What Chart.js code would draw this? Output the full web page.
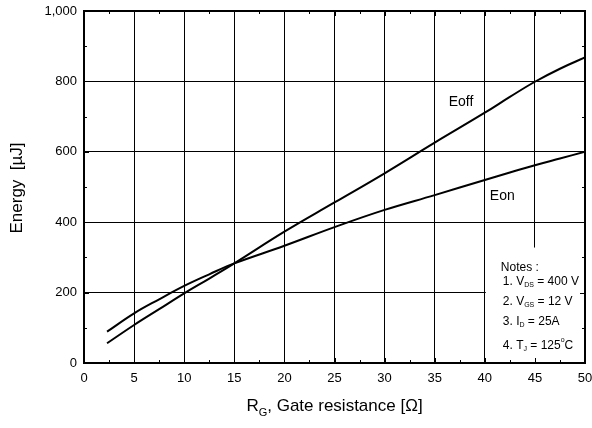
<!DOCTYPE html>
<html>
<head>
<meta charset="utf-8">
<script src="https://cdn.jsdelivr.net/npm/chart.js@4"></script>
<style>
  html, body { margin: 0; padding: 0; background: #fff; }
  #wrap { width: 592px; height: 428px; position: relative; }
</style>
</head>
<body>
<div id="wrap"><canvas id="c" width="592" height="428"></canvas></div>
<script>
// ---- data ----
const rg   = [2.3, 5, 7.5, 10, 12.5, 15, 20, 25, 30, 35, 40, 42.5, 45, 47.5, 50];
const eon  = [89, 141, 181, 219, 252, 283, 333, 386, 435, 477, 520, 541, 562, 581, 600];
const eoff = [56, 108, 153, 198, 240, 283, 373, 456, 539, 626, 711, 756, 799, 836, 868];
const seriesNames = ['Eon', 'Eoff'];
const xTitleMain = 'R';
const xTitleSub = 'G';
const xTitleRest = ', Gate resistance [Ω]';
const yTitle = 'Energy  [µJ]';
const notesTitle = 'Notes :';
const notes = [
  [['1. V', 'n'], ['DS', 'sub'], [' = 400 V', 'n']],
  [['2. V', 'n'], ['GS', 'sub'], [' = 12 V', 'n']],
  [['3. I', 'n'], ['D', 'sub'], [' = 25A', 'n']],
  [['4. T', 'n'], ['J', 'sub'], [' = 125', 'n'], ['o', 'sup'], ['C', 'n']]
];
// label anchor positions in data units (x, y)
const labelAnchors = { Eoff: [36.4, 742], Eon: [40.5, 475] };

const FONT = '"Liberation Sans", Arial, Helvetica, sans-serif';

function pts(xs, ys) { return xs.map((x, i) => ({ x: x, y: ys[i] })); }

const decor = {
  id: 'decor',
  beforeDatasetsDraw(chart) {
    const { ctx, chartArea: a, scales: { x, y } } = chart;
    const left = x.getPixelForValue(40) + 1;
    const top = y.getPixelForValue(328);
    ctx.save();
    ctx.fillStyle = '#fff';
    ctx.fillRect(left, top, a.right - left, a.bottom - top);
    ctx.restore();
  },
  afterDatasetsDraw(chart) {
    const { ctx, chartArea: a, scales: { x, y } } = chart;
    ctx.save();
    ctx.strokeStyle = '#000';
    ctx.lineWidth = 1;
    const xt = x.ticks.map(t => t.value);
    const yt = y.ticks.map(t => t.value);
    const xm = [], ym = [];
    for (let i = 0; i < xt.length - 1; i++) xm.push((xt[i] + xt[i + 1]) / 2);
    for (let i = 0; i < yt.length - 1; i++) ym.push((yt[i] + yt[i + 1]) / 2);
    ctx.beginPath();
    const tick = (vals, len, isX) => {
      vals.forEach(v => {
        if (isX) {
          const px = Math.round(x.getPixelForValue(v)) + 0.5;
          ctx.moveTo(px, a.bottom); ctx.lineTo(px, a.bottom - len);
          ctx.moveTo(px, a.top); ctx.lineTo(px, a.top + len);
        } else {
          const py = Math.round(y.getPixelForValue(v)) + 0.5;
          ctx.moveTo(a.left, py); ctx.lineTo(a.left + len, py);
          ctx.moveTo(a.right, py); ctx.lineTo(a.right - len, py);
        }
      });
    };
    tick(xt, 5, true); tick(yt, 5, false);
    tick(xm, 3, true); tick(ym, 3, false);
    ctx.stroke();
    ctx.lineWidth = 2;
    ctx.strokeRect(a.left, a.top, a.right - a.left, a.bottom - a.top);
    ctx.restore();
  },
  afterDraw(chart) {
    const { ctx, chartArea: a, scales: { x, y } } = chart;
    ctx.save();
    ctx.fillStyle = '#000';
    ctx.font = '14px ' + FONT;
    ctx.textAlign = 'left';
    ctx.textBaseline = 'middle';
    seriesNames.forEach(n => {
      const p = labelAnchors[n];
      ctx.fillText(n, x.getPixelForValue(p[0]), y.getPixelForValue(p[1]));
    });
    // y title
    ctx.save();
    ctx.font = '17px ' + FONT;
    ctx.textAlign = 'center';
    ctx.textBaseline = 'middle';
    ctx.translate(17, (a.top + a.bottom) / 2 + 1);
    ctx.rotate(-Math.PI / 2);
    ctx.fillText(yTitle, 0, 0);
    ctx.restore();
    // x title with subscript
    ctx.textBaseline = 'alphabetic';
    ctx.font = '17px ' + FONT;
    const wR = ctx.measureText(xTitleMain).width;
    const wRest = ctx.measureText(xTitleRest).width;
    ctx.font = '11px ' + FONT;
    const wG = ctx.measureText(xTitleSub).width;
    const total = wR + wG + wRest;
    let cx = (a.left + a.right) / 2 - total / 2;
    const base = a.bottom + 48;
    ctx.font = '17px ' + FONT;
    ctx.fillText(xTitleMain, cx, base); cx += wR;
    ctx.font = '11px ' + FONT;
    ctx.fillText(xTitleSub, cx, base + 5); cx += wG;
    ctx.font = '17px ' + FONT;
    ctx.fillText(xTitleRest, cx, base);
    // notes
    const bx = x.getPixelForValue(40) + 1;
    const by = y.getPixelForValue(328);
    ctx.font = '12px ' + FONT;
    ctx.textBaseline = 'middle';
    ctx.fillText(notesTitle, bx + 15, by + 20);
    const lineY = [34, 54, 74, 98];
    notes.forEach((parts, i) => {
      let px = bx + 17;
      const py = by + lineY[i];
      parts.forEach(([t, kind]) => {
        if (kind === 'n') {
          ctx.font = '12px ' + FONT;
          ctx.fillText(t, px, py);
        } else if (kind === 'sub') {
          ctx.font = '7px ' + FONT;
          ctx.fillText(t, px, py + 4);
        } else {
          ctx.font = '7px ' + FONT;
          ctx.fillText(t, px, py - 5);
        }
        px += ctx.measureText(t).width;
      });
    });
    ctx.restore();
  }
};

new Chart(document.getElementById('c'), {
  type: 'line',
  data: {
    datasets: [
      { label: seriesNames[0], data: pts(rg, eon), borderColor: '#000', borderWidth: 2,
        pointRadius: 0, tension: 0.4, fill: false },
      { label: seriesNames[1], data: pts(rg, eoff), borderColor: '#000', borderWidth: 2,
        pointRadius: 0, tension: 0.4, fill: false }
    ]
  },
  options: {
    responsive: false,
    animation: false,
    devicePixelRatio: 1,
    layout: { padding: { left: 0, right: 7, top: 11, bottom: 0 } },
    plugins: { legend: { display: false }, tooltip: { enabled: false } },
    scales: {
      x: {
        type: 'linear', min: 0, max: 50,
        ticks: { stepSize: 5, color: '#000', font: { family: FONT, size: 13 }, padding: 8, maxRotation: 0 },
        grid: { color: '#000', lineWidth: 1, drawTicks: false },
        border: { display: false },
        afterFit(s) { s.height = 65; s.paddingLeft = 0; s.paddingRight = 0; }
      },
      y: {
        min: 0, max: 1000,
        ticks: { stepSize: 200, color: '#000', font: { family: FONT, size: 13 }, padding: 7 },
        grid: { color: '#000', lineWidth: 1, drawTicks: false },
        border: { display: false },
        afterFit(s) { s.width = 84; s.paddingTop = 0; s.paddingBottom = 0; }
      }
    }
  },
  plugins: [decor]
});
</script>
</body>
</html>
